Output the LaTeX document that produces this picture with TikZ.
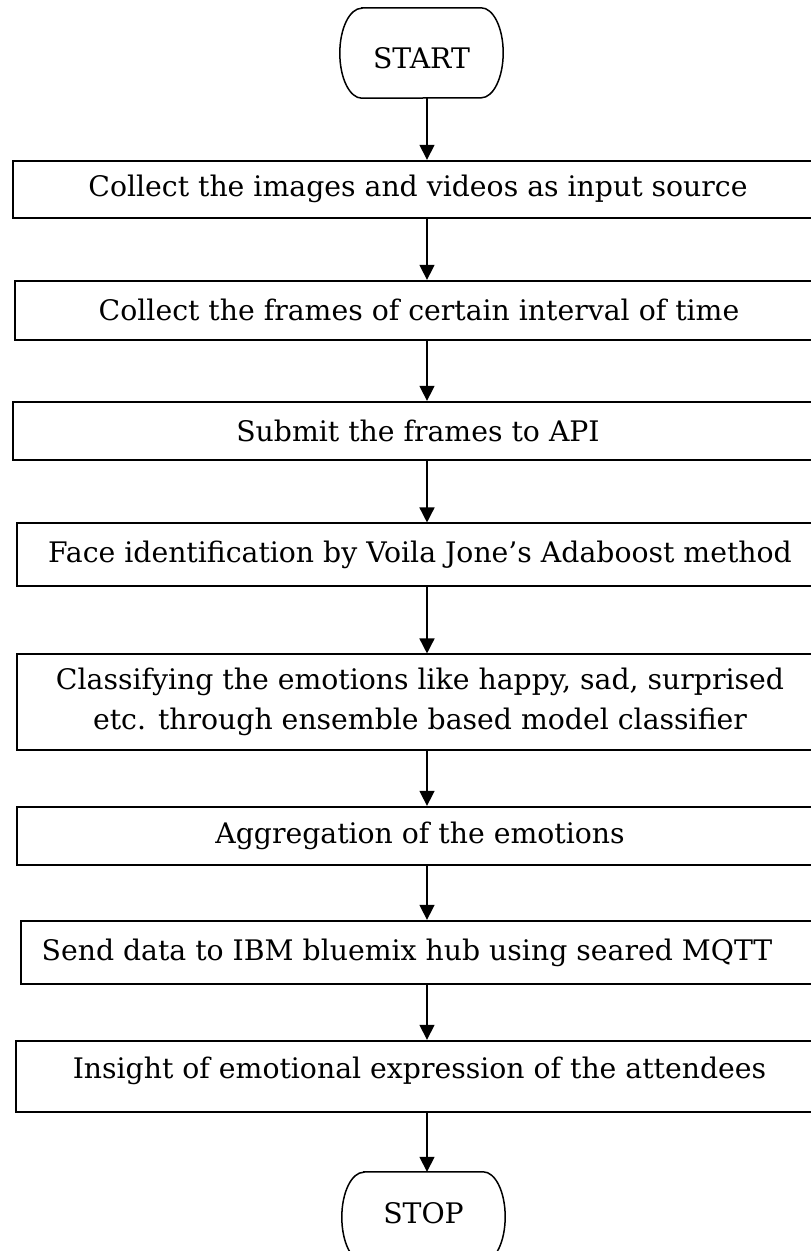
\documentclass[tikz,border=0pt]{standalone}
\usepackage{fontspec}
\setmainfont{DejaVu Serif}
\usetikzlibrary{arrows.meta,positioning,calc}

\begin{document}
\begin{tikzpicture}[x=1pt,y=-1pt,
  font=\fontsize{28.3}{40}\selectfont,
  term/.style={rectangle,minimum width=163pt,minimum height=90pt,align=center},
  termline/.style={line width=1.5pt},
  proc/.style={rectangle,draw,line width=1.8pt,align=center,inner sep=0pt},
  arr/.style={-{Triangle[length=15pt,width=15pt]},line width=1.5pt}]
  \useasboundingbox (0,0) rectangle (811,1251);

  % start / stop
  \node[term] (start) at (421.5,53) {\raisebox{-15pt}[0pt][0pt]{START}};
  \node[term] (stop) at (423.5,1217) {\raisebox{-6pt}[0pt][0pt]{STOP}};
  \draw[termline] ([xshift=22pt]start.north west) -- ([xshift=-22pt]start.north east)
    arc[start angle=270,end angle=450,x radius=22,y radius=45] -- ([xshift=22pt]start.south west)
    arc[start angle=90,end angle=270,x radius=22,y radius=45] -- cycle;
  \draw[termline] ([xshift=22pt]stop.north west) -- ([xshift=-22pt]stop.north east)
    arc[start angle=270,end angle=450,x radius=22,y radius=45] -- ([xshift=22pt]stop.south west)
    arc[start angle=90,end angle=270,x radius=22,y radius=45] -- cycle;

  % process steps
  \node[proc,minimum width=810pt,minimum height=57pt] (b1) at (418,189.2) {Collect the images and videos as input source};
  \node[proc,minimum width=808pt,minimum height=59.3pt] (b2) at (419,310.4) {Collect the frames of certain interval of time};
  \node[proc,minimum width=810pt,minimum height=58.3pt] (b3) at (418,430.9) {Submit the frames to API};
  \node[proc,minimum width=806pt,minimum height=62.7pt] (b4) at (420,554.7) {Face identification by Voila Jone’s Adaboost method};
  \node[proc,minimum width=806pt,minimum height=95.7pt] (b5) at (420,702.2) {Classifying the emotions like happy, sad, surprised\\ etc. through ensemble based model classifier};
  \node[proc,minimum width=806pt,minimum height=58.3pt] (b6) at (420,835.9) {Aggregation of the emotions};
  \node[proc,minimum width=802pt,minimum height=63.3pt] (b7) at (422,952.4) {\hspace*{-30pt}Send data to IBM bluemix hub using seared MQTT};
  \node[proc,minimum width=807pt,minimum height=71.6pt] (b8) at (419.5,1076.5) {\raisebox{-1.5pt}[0pt][0pt]{Insight of emotional expression of the attendees}};

  % arrows down the middle
  \coordinate (axis) at (427,0);
  \draw[arr] (start.south -| axis) -- (b1.north -| axis);
  \draw[arr] (b1.south -| axis) -- (b2.north -| axis);
  \draw[arr] (b2.south -| axis) -- (b3.north -| axis);
  \draw[arr] (b3.south -| axis) -- (b4.north -| axis);
  \draw[arr] (b4.south -| axis) -- (b5.north -| axis);
  \draw[arr] (b5.south -| axis) -- (b6.north -| axis);
  \draw[arr] (b6.south -| axis) -- (b7.north -| axis);
  \draw[arr] (b7.south -| axis) -- (b8.north -| axis);
  \draw[arr] (b8.south -| axis) -- (stop.north -| axis);
\end{tikzpicture}
\end{document}
